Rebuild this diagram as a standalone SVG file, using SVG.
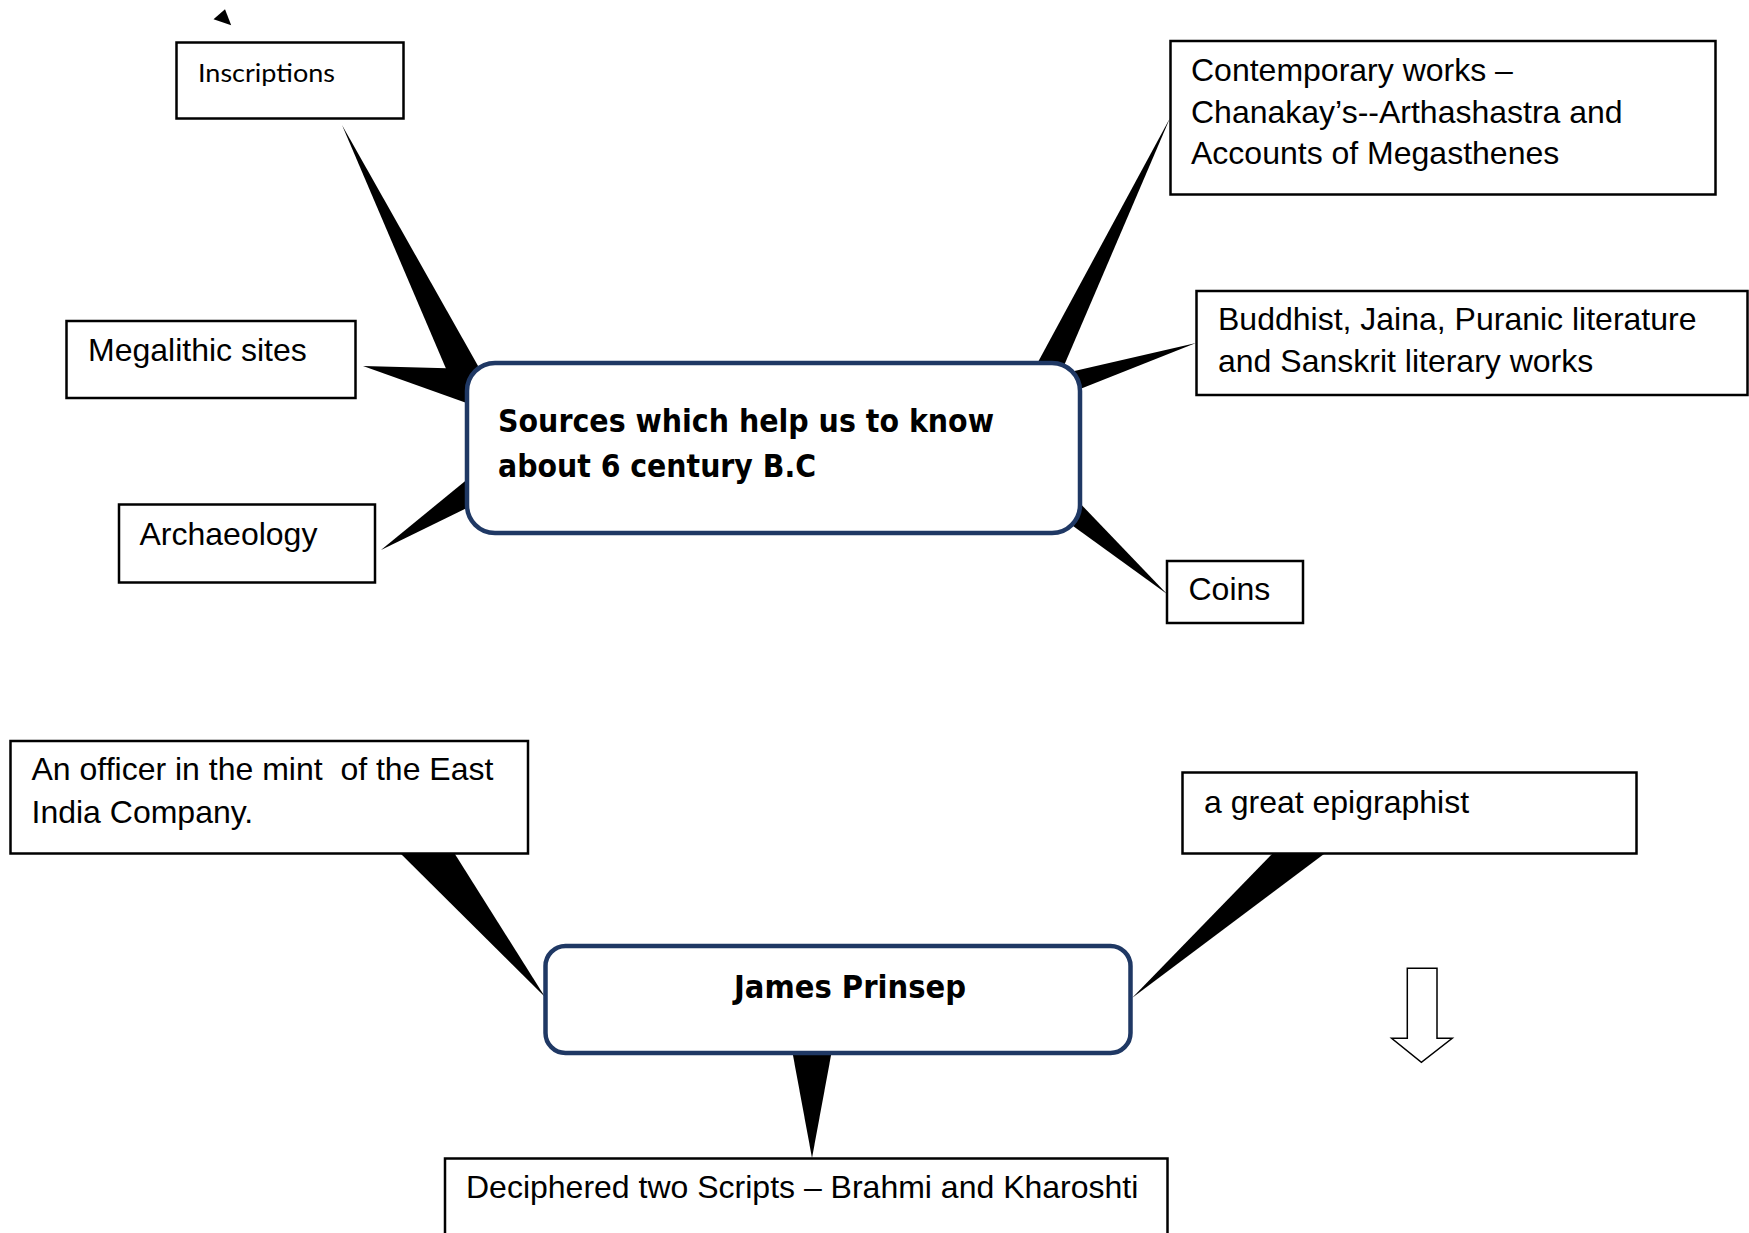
<svg xmlns="http://www.w3.org/2000/svg" width="1749" height="1233" viewBox="0 0 1749 1233">
<style>
.box{fill:#fff;stroke:#000;stroke-width:2.5}
.hub{fill:#fff;stroke:#1F3864;stroke-width:4.5}
.t{font-family:"Liberation Sans",Arial,sans-serif;font-size:32px;fill:#000}
.b{font-family:"DejaVu Sans Condensed","DejaVu Sans",Verdana,sans-serif;font-stretch:condensed;font-weight:bold;font-size:31.5px;fill:#000}
.c{font-family:Lato,"Open Sans",sans-serif;font-size:25px;fill:#000}
.spike{fill:#000;stroke:none}
</style>
<rect width="1749" height="1233" fill="#fff"/>
<g id="connectors">
<polygon class="spike" points="342,125 450,378 486,380"/>
<polygon class="spike" points="363,366 475,369 475,406"/>
<polygon class="spike" points="381,550 475,473 475,504"/>
<polygon class="spike" points="1170,118 1031,375 1060,375"/>
<polygon class="spike" points="1196,343 1070,372 1070,393"/>
<polygon class="spike" points="1167,594 1074,497 1062,518"/>
<polygon class="spike" points="398,851 453,851 545,997"/>
<polygon class="spike" points="1275,851 1328,851 1132,998"/>
<polygon class="spike" points="792,1050 832,1050 812,1158"/>
<polygon class="spike" points="213.5,19.3 225,9.3 231.2,25.3"/>
</g>
<g id="hub-sources">
<rect class="hub" x="467" y="363" width="613" height="170" rx="28" ry="28"/>
<text class="b" x="498" y="432" textLength="496" lengthAdjust="spacingAndGlyphs">Sources which help us to know</text>
<text class="b" x="498" y="476.5" textLength="318" lengthAdjust="spacingAndGlyphs">about 6 century B.C</text>
</g>
<g id="node-inscriptions">
<rect class="box" x="176.5" y="42.5" width="227" height="76"/>
<text class="c" x="198" y="81.5" textLength="137" lengthAdjust="spacingAndGlyphs">Inscriptions</text>
</g>
<g id="node-megalithic">
<rect class="box" x="66.5" y="321" width="289" height="77"/>
<text class="t" x="88" y="360.5">Megalithic sites</text>
</g>
<g id="node-archaeology">
<rect class="box" x="119" y="504.5" width="256" height="78"/>
<text class="t" x="139.5" y="545">Archaeology</text>
</g>
<g id="node-contemporary">
<rect class="box" x="1170.5" y="41" width="545" height="153.5"/>
<text class="t" x="1191" y="81">Contemporary works –</text>
<text class="t" x="1191" y="122.7">Chanakay’s--Arthashastra and</text>
<text class="t" x="1191" y="164.3">Accounts of Megasthenes</text>
</g>
<g id="node-buddhist">
<rect class="box" x="1196.5" y="291" width="551" height="104"/>
<text class="t" x="1218" y="330">Buddhist, Jaina, Puranic literature</text>
<text class="t" x="1218" y="371.7">and Sanskrit literary works</text>
</g>
<g id="node-coins">
<rect class="box" x="1167" y="561" width="136" height="62"/>
<text class="t" x="1188.5" y="600">Coins</text>
</g>
<g id="hub-prinsep">
<rect class="hub" x="545.5" y="946" width="585" height="107" rx="20" ry="20"/>
<text class="b" x="734" y="998" textLength="232" lengthAdjust="spacingAndGlyphs">James Prinsep</text>
</g>
<g id="node-officer">
<rect class="box" x="10.5" y="741" width="517.5" height="112.5"/>
<text class="t" x="31.5" y="780" xml:space="preserve">An officer in the mint  of the East</text>
<text class="t" x="31.5" y="823.3">India Company.</text>
</g>
<g id="node-epigraphist">
<rect class="box" x="1182.5" y="772.5" width="454" height="81"/>
<text class="t" x="1204" y="812.7">a great epigraphist</text>
</g>
<g id="node-deciphered">
<rect class="box" x="445" y="1158.5" width="722.5" height="90"/>
<text class="t" x="466" y="1198.3">Deciphered two Scripts – Brahmi and Kharoshti</text>
</g>
<g id="down-arrow">
<polygon points="1407.3,968.3 1437,968.3 1437,1038.3 1452.2,1038.3 1421.4,1062.3 1391.6,1038.3 1407.3,1038.3" fill="#fff" stroke="#000" stroke-width="1.5"/>
</g>
</svg>
